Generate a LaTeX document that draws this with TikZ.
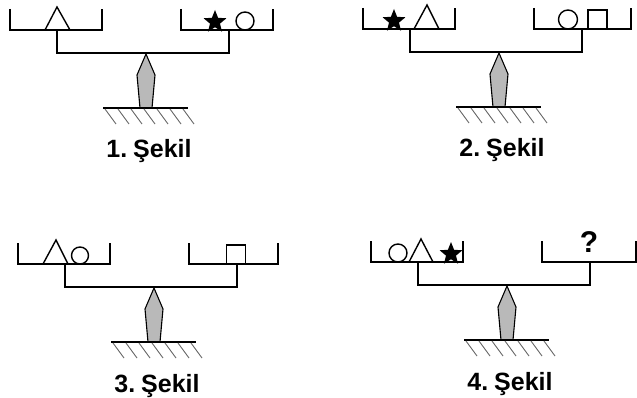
\documentclass[tikz,border=0pt]{standalone}
\usepackage{fontspec}
\setmainfont{Liberation Sans}
\usetikzlibrary{shapes.geometric}

% one balance: #1,#2 = left post / beam, #3 = width of right pan, #4 = number, #5 = load
\newcommand{\drawbalance}[5]{%
\begin{scope}[shift={(#1,#2)}]
\draw[pan] (-47,-44) -- (-47,-23) -- (45,-23) -- (45,-44);
\draw[pan] (124,-44) -- (124,-23) -- ({124+#3},-23) -- ({124+#3},-44);
\draw[pan] (0,-23) -- (0,0) -- (172,0) -- (172,-23);
\draw[pivot] (89,1) -- (80,22) -- (83,55) -- (95,55) -- (98,22) -- cycle;
\draw[pan] (46,55) -- (131,55);
\foreach \i in {0,...,6}
  \draw[hatch] ({48+13*\i},56) -- ({59+13*\i},71);
\node[label] (lbl#4) at (92,105) {#4.\hspace{.24em}Şekil};
#5
\end{scope}}

\begin{document}
\begin{tikzpicture}[x=1pt,y=-1pt,
  pan/.style={line width=1.5pt,line join=miter},
  pivot/.style={draw,line width=1.1pt,fill=gray!55},
  hatch/.style={gray!80!black,line width=0.9pt},
  load/.style={draw,line width=1.4pt,inner sep=0pt},
  starload/.style={star,star points=5,star point ratio=2.3,fill=black,inner sep=0pt,minimum size=24pt},
  label/.style={anchor=base,font=\fontsize{25}{27}\selectfont\bfseries}]
\useasboundingbox (0,0) rectangle (637,398);

% 1. Sekil
\drawbalance{57}{53}{92}{1}{%
  \draw[load] (-12,-23) -- (0,-46) -- (13,-23) -- cycle;
  \node[starload] (st1) at (158,-31) {};
  \node[load,circle,minimum size=18pt] (ci1) at (188,-32) {};
}

% 2. Sekil
\drawbalance{410}{52}{97}{2}{%
  \node[starload] (st2) at (-16,-31) {};
  \draw[load] (4,-23) -- (17,-47) -- (29,-23) -- cycle;
  \node[load,circle,minimum size=19pt] (ci2) at (158,-32.5) {};
  \node[load,rectangle,minimum size=19pt] (sq2) at (187.5,-32.5) {};
}

% 3. Sekil
\drawbalance{65}{287}{89}{3}{%
  \draw[load] (-22,-23) -- (-9,-47) -- (3,-23) -- cycle;
  \node[load,circle,minimum size=17pt] (ci3) at (15,-31.5) {};
  \node[load,rectangle,minimum size=19pt] (sq3) at (171,-32.5) {};
}

% 4. Sekil
\drawbalance{418}{285}{94}{4}{%
  \node[load,circle,minimum size=18pt] (ci4) at (-20,-32) {};
  \draw[load] (-9,-23) -- (3,-46) -- (15,-23) -- cycle;
  \node[starload] (st4) at (33,-31) {};
  \node[anchor=base,font=\fontsize{30}{32}\selectfont\bfseries] (q4) at (171,-33) {?};
}
\end{tikzpicture}
\end{document}
